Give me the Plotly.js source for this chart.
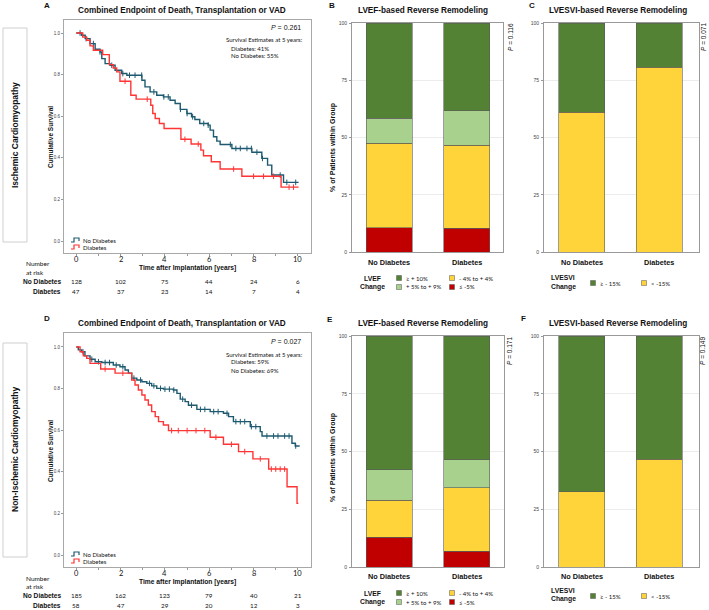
<!DOCTYPE html>
<html><head><meta charset="utf-8">
<script src="https://cdn.plot.ly/plotly-3.0.1.min.js"></script>
<style>html,body{margin:0;padding:0;background:#fff}#chart{width:709px;height:610px}</style>
</head><body><div id="chart"></div>
<script>
// ---------- DATA ----------
const groups = ['No Diabetes', 'Diabetes'];
const riskTimes = [0, 2, 4, 6, 8, 10];

// Panel A (Ischemic) Kaplan-Meier steps
const A_noDiab_t = [0, 0.24, 0.4, 0.62, 0.85, 1.07, 1.15, 1.3, 1.52, 1.75, 2.05, 2.28, 2.96, 3.1, 3.33, 3.63, 3.93, 4.23, 4.46, 4.69, 4.99, 5.2, 5.35, 5.57, 5.95, 6.04, 6.19, 6.34, 6.49, 7.02, 7.92, 8.37, 8.63, 8.82, 9.35, 10.03];
const A_noDiab_s = [1.0, 0.989, 0.973, 0.949, 0.922, 0.909, 0.877, 0.853, 0.845, 0.821, 0.805, 0.797, 0.773, 0.741, 0.717, 0.701, 0.693, 0.677, 0.661, 0.633, 0.613, 0.597, 0.584, 0.565, 0.557, 0.533, 0.501, 0.48, 0.464, 0.445, 0.427, 0.397, 0.365, 0.317, 0.282, 0.282];
const A_diab_t = [0, 0.29, 0.47, 0.62, 0.77, 1.19, 1.49, 1.67, 1.82, 1.97, 2.46, 2.7, 3.36, 3.45, 3.56, 3.75, 3.96, 4.72, 5.18, 5.62, 5.74, 6.09, 6.49, 7.47, 9.24, 10.03];
const A_diab_s = [1.0, 0.98, 0.965, 0.938, 0.917, 0.896, 0.848, 0.832, 0.813, 0.768, 0.701, 0.682, 0.653, 0.613, 0.589, 0.565, 0.541, 0.489, 0.466, 0.437, 0.41, 0.381, 0.346, 0.311, 0.259, 0.259];
const A_noDiab_cens = [0.17, 0.44, 0.77, 1.07, 1.6, 2.1, 2.4, 2.65, 2.95, 3.5, 3.95, 4.15, 4.7, 5.0, 5.25, 5.75, 5.95, 6.95, 7.2, 7.4, 7.7, 7.9, 8.15, 8.4, 9.2, 9.5, 9.9];
const A_diab_cens = [2.2, 3.2, 4.9, 5.5, 7.1, 8.0, 8.45, 8.9, 9.6, 9.8];
const A_risk_noDiab = [128, 102, 75, 44, 24, 6];
const A_risk_diab = [47, 37, 23, 14, 7, 4];

// Panel D (Non-ischemic) Kaplan-Meier steps
const D_noDiab_t = [0, 0.09, 0.24, 0.39, 0.62, 0.85, 1.15, 1.67, 1.97, 2.2, 2.35, 2.5, 2.73, 2.96, 3.18, 3.4, 3.63, 3.93, 4.38, 4.54, 4.69, 4.91, 5.06, 5.44, 6.04, 6.64, 6.87, 7.09, 7.85, 8.3, 8.38, 9.73, 9.88, 10.08];
const D_noDiab_s = [1.0, 0.986, 0.977, 0.957, 0.941, 0.929, 0.925, 0.913, 0.905, 0.889, 0.874, 0.85, 0.841, 0.833, 0.825, 0.813, 0.801, 0.797, 0.793, 0.777, 0.749, 0.737, 0.72, 0.70, 0.689, 0.681, 0.665, 0.641, 0.617, 0.593, 0.572, 0.537, 0.524, 0.524];
const D_diab_t = [0, 0.17, 0.32, 0.47, 0.62, 1.1, 1.75, 2.5, 2.65, 2.8, 2.96, 3.1, 3.25, 3.4, 3.56, 3.71, 3.93, 4.16, 6.04, 6.64, 7.32, 7.97, 8.68, 9.51, 9.96, 10.02];
const D_diab_s = [1.0, 0.977, 0.957, 0.945, 0.921, 0.894, 0.874, 0.841, 0.817, 0.793, 0.769, 0.745, 0.721, 0.689, 0.665, 0.641, 0.625, 0.598, 0.566, 0.532, 0.497, 0.462, 0.413, 0.328, 0.248, 0.248];
const D_noDiab_cens = [0.3, 0.7, 1.0, 1.3, 1.5, 1.8, 2.1, 2.6, 2.9, 3.3, 3.5, 3.8, 4.0, 4.2, 4.4, 4.8, 5.2, 5.6, 5.8, 6.2, 6.4, 6.8, 7.2, 7.4, 7.6, 7.9, 8.1, 8.6, 8.9, 9.1, 9.4, 9.6, 9.9];
const D_diab_cens = [1.3, 2.1, 4.3, 4.6, 5.0, 5.4, 5.8, 6.3, 7.0, 7.6, 8.3, 8.8, 9.0, 9.2, 9.4];
const D_risk_noDiab = [185, 162, 123, 79, 40, 21];
const D_risk_diab = [58, 47, 29, 20, 12, 3];

// LVEF change categories (% of patients)
const lvefLabels = ['\u2265 + 10%', '+ 5% to + 9%', '- 4% to + 4%', '\u2264 -5%'];
const B_le_m5 = [10.7, 10.4];
const B_m4_p4 = [36.8, 36.2];
const B_p5_p9 = [11.0, 15.1];
const B_ge_10 = [41.5, 38.3];
const E_le_m5 = [12.9, 6.9];
const E_m4_p4 = [15.9, 27.5];
const E_p5_p9 = [13.3, 12.0];
const E_ge_10 = [57.9, 53.6];

// LVESVI change categories
const lvesviLabels = ['\u2265 - 15%', '< -15%'];
const C_lt_m15 = [61.1, 80.7];
const C_ge_m15 = [38.9, 19.3];
const F_lt_m15 = [32.5, 46.7];
const F_ge_m15 = [67.5, 53.3];

const pValues = {A: '0.261', B: '0.116', C: '0.071', D: '0.027', E: '0.171', F: '0.149'};
const est5 = {A: ['41%', '55%'], D: ['59%', '69%']};

// ---------- STYLE ----------
const W = 709, H = 610;
const BLUE = '#1d5a70', RED = '#ff3535';
const DKG = '#548235', LTG = '#a9d18e', YEL = '#ffd43b', RD = '#c00000';
const ARIAL = 'Liberation Sans, Arial, sans-serif';
const LATO = 'Lato, Open Sans, sans-serif';
const px = x => x / W, py = y => 1 - y / H;

function stepAt(T, S, t) { let v = S[0]; for (let i = 0; i < T.length; i++) { if (T[i] <= t) v = S[i]; } return v; }

const traces = [];
function km(T, S, cens, color, xa, ya) {
  traces.push({x: T, y: S, type: 'scatter', mode: 'lines', line: {shape: 'hv', color: color, width: 1.4}, xaxis: xa, yaxis: ya, hoverinfo: 'skip'});
  traces.push({x: cens, y: cens.map(t => stepAt(T, S, t)), type: 'scatter', mode: 'markers',
    marker: {symbol: 'line-ns', size: 4, line: {color: color, width: 1}}, xaxis: xa, yaxis: ya, hoverinfo: 'skip'});
}
km(A_noDiab_t, A_noDiab_s, A_noDiab_cens, BLUE, 'x', 'y');
km(A_diab_t, A_diab_s, A_diab_cens, RED, 'x', 'y');
km(D_noDiab_t, D_noDiab_s, D_noDiab_cens, BLUE, 'x4', 'y4');
km(D_diab_t, D_diab_s, D_diab_cens, RED, 'x4', 'y4');

function bar(vals, color, xa, ya) {
  traces.push({x: groups, y: vals, type: 'bar', width: 0.594, marker: {color: color, line: {color: '#5a5a5a', width: 0.6}}, xaxis: xa, yaxis: ya, hoverinfo: 'skip'});
}
bar(B_le_m5, RD, 'x2', 'y2'); bar(B_m4_p4, YEL, 'x2', 'y2'); bar(B_p5_p9, LTG, 'x2', 'y2'); bar(B_ge_10, DKG, 'x2', 'y2');
bar(C_lt_m15, YEL, 'x3', 'y3'); bar(C_ge_m15, DKG, 'x3', 'y3');
bar(E_le_m5, RD, 'x5', 'y5'); bar(E_m4_p4, YEL, 'x5', 'y5'); bar(E_p5_p9, LTG, 'x5', 'y5'); bar(E_ge_10, DKG, 'x5', 'y5');
bar(F_lt_m15, YEL, 'x6', 'y6'); bar(F_ge_m15, DKG, 'x6', 'y6');

// ---------- AXES ----------
function kmX(anchor) {
  return {domain: [px(64), px(311)], range: [-0.555, 10.59], anchor: anchor, tickmode: 'array', tickvals: riskTimes, showticklabels: false,
    ticks: 'outside', ticklen: 2, tickcolor: '#999',
    minor: {dtick: 1, ticks: 'outside', ticklen: 2, tickcolor: '#999'},
    showline: true, mirror: true, linecolor: '#a8a8a8', linewidth: 1, showgrid: false, zeroline: false, fixedrange: true};
}
function kmY(anchor, top, bot, r) {
  return {domain: [py(bot), py(top)], range: r, anchor: anchor, tickvals: [0, 0.2, 0.4, 0.6, 0.8, 1.0], ticktext: ['0.0', '0.2', '0.4', '0.6', '0.8', '1.0'],
    ticks: 'outside', ticklen: 2, tickcolor: '#999', tickfont: {family: ARIAL, size: 4.5, color: '#444'}, ticklabelstandoff: 0,
    showline: true, mirror: true, linecolor: '#a8a8a8', linewidth: 1, showgrid: false, zeroline: false, fixedrange: true};
}
function barX(anchor, l, r, range) {
  return {domain: [px(l), px(r)], range: range, type: 'category', anchor: anchor, showticklabels: false,
    ticks: '', showline: true, mirror: true, linecolor: '#999', linewidth: 1, showgrid: false, zeroline: false, fixedrange: true};
}
function barY(anchor, top, bot) {
  return {domain: [py(bot), py(top)], range: [0, 100], anchor: anchor, tickvals: [0, 25, 50, 75, 100],
    ticks: 'outside', ticklen: 2, tickcolor: '#999', tickfont: {family: ARIAL, size: 5, color: '#444'}, ticklabelstandoff: 1,
    showline: true, mirror: true, linecolor: '#999', linewidth: 1, showgrid: true, gridcolor: '#ececec', gridwidth: 1, zeroline: false, fixedrange: true};
}

// ---------- ANNOTATIONS ----------
const ann = [];
function T(x, y, text, o) {
  ann.push(Object.assign({xref: 'paper', yref: 'paper', x: px(x), y: py(y), text: text, showarrow: false, xanchor: 'center', yanchor: 'middle',
    font: {family: ARIAL, size: 8, color: '#111'}}, o || {}));
}
const bold = (s) => '<b>' + s + '</b>';

// panel letters & titles
[['A', 47, 6], ['B', 332, 6], ['C', 532, 5], ['D', 47, 318], ['E', 330, 319], ['F', 523, 318]].forEach(a => T(a[1], a[2], bold(a[0]), {font: {family: ARIAL, size: 8, color: '#111'}}));
const kmTitle = 'Combined Endpoint of Death, Transplantation or VAD';
T(182, 10, bold(kmTitle), {font: {family: ARIAL, size: 8.2, color: '#111'}});
T(182, 324, bold(kmTitle), {font: {family: ARIAL, size: 8.2, color: '#111'}});
T(423, 10, bold('LVEF-based Reverse Remodeling'), {font: {family: ARIAL, size: 8.2, color: '#111'}});
T(423, 324, bold('LVEF-based Reverse Remodeling'), {font: {family: ARIAL, size: 8.2, color: '#111'}});
T(618, 10, bold('LVESVI-based Reverse Remodeling'), {font: {family: ARIAL, size: 8.2, color: '#111'}});
T(618, 324, bold('LVESVI-based Reverse Remodeling'), {font: {family: ARIAL, size: 8.2, color: '#111'}});

// row labels
T(15, 135, bold('Ischemic Cardiomyopathy'), {textangle: -90, font: {family: ARIAL, size: 8.5, color: '#111'}});
T(15, 450, bold('Non-Ischemic Cardiomyopathy'), {textangle: -90, font: {family: ARIAL, size: 8.5, color: '#111'}});

// KM panels text
function kmText(key, dy) {
  T(50, 137 + dy, bold('Cumulative Survival'), {textangle: -90, font: {family: ARIAL, size: 6.5, color: '#111'}});
  T(303, 27 + dy, '<i>P</i> = ' + pValues[key], {xanchor: 'right', font: {family: ARIAL, size: 7, color: '#111'}});
  T(305, 40 + dy, 'Survival Estimates at 5 years:', {xanchor: 'right', font: {family: LATO, size: 6, color: '#111'}});
  T(229, 48 + dy, 'Diabetes: ' + est5[key][0], {xanchor: 'left', font: {family: LATO, size: 6, color: '#111'}});
  T(229, 56 + dy, 'No Diabetes: ' + est5[key][1], {xanchor: 'left', font: {family: LATO, size: 6, color: '#111'}});
  T(81, 240 + dy, 'No Diabetes', {xanchor: 'left', font: {family: LATO, size: 6, color: '#111'}});
  T(81, 247 + dy, 'Diabetes', {xanchor: 'left', font: {family: LATO, size: 6, color: '#111'}});
  T(188, 268 + dy, bold('Time after Implantation [years]'), {font: {family: ARIAL, size: 6.7, color: '#111'}});
  T(24, 264 + dy, 'Number', {xanchor: 'left', font: {family: LATO, size: 6.5, color: '#111'}});
  T(24, 272 + dy, 'at risk', {xanchor: 'left', font: {family: LATO, size: 6.5, color: '#111'}});
  T(63, 281 + dy, bold('No Diabetes'), {xanchor: 'right', font: {family: ARIAL, size: 6.6, color: '#111'}});
  T(63, 291 + dy, bold('Diabetes'), {xanchor: 'right', font: {family: ARIAL, size: 6.6, color: '#111'}});
}
kmText('A', 0);
kmText('D', 314);
function axisRow(vals, xa, y, size) {
  riskTimes.forEach((t, i) => ann.push({xref: xa, yref: 'paper', x: t, y: py(y), text: String(vals[i]), showarrow: false, xanchor: 'center', yanchor: 'middle', font: {family: LATO, size: size, color: '#111'}}));
}
axisRow(riskTimes, 'x', 259, 7.5); axisRow(riskTimes, 'x4', 573, 7.5);
axisRow(A_risk_noDiab, 'x', 281, 6.3); axisRow(A_risk_diab, 'x', 291, 6.3);
axisRow(D_risk_noDiab, 'x4', 595, 6.3); axisRow(D_risk_diab, 'x4', 605, 6.3);

// bar panels text
function cats(xa, y) {
  groups.forEach(g => ann.push({xref: xa, yref: 'paper', x: g, y: py(y), text: bold(g), showarrow: false, xanchor: 'center', yanchor: 'middle', font: {family: ARIAL, size: 7.3, color: '#111'}}));
}
cats('x2', 262); cats('x3', 262); cats('x5', 576); cats('x6', 576);
T(333, 148, bold('% of Patients within Group'), {textangle: -90, font: {family: ARIAL, size: 7, color: '#111'}});
T(333, 458, bold('% of Patients within Group'), {textangle: -90, font: {family: ARIAL, size: 7, color: '#111'}});
T(510, 37, '<i>P</i> = ' + pValues.B, {textangle: -90, font: {family: ARIAL, size: 6.5, color: '#111'}});
T(703, 37, '<i>P</i> = ' + pValues.C, {textangle: -90, font: {family: ARIAL, size: 6.5, color: '#111'}});
T(510, 351, '<i>P</i> = ' + pValues.E, {textangle: -90, font: {family: ARIAL, size: 6.5, color: '#111'}});
T(703, 351, '<i>P</i> = ' + pValues.F, {textangle: -90, font: {family: ARIAL, size: 6.5, color: '#111'}});

const shapes = [];
// row boxes
shapes.push({type: 'rect', xref: 'paper', yref: 'paper', x0: px(3), x1: px(27), y0: py(242), y1: py(28), line: {color: '#cfcfcf', width: 1}});
shapes.push({type: 'rect', xref: 'paper', yref: 'paper', x0: px(3), x1: px(27), y0: py(557), y1: py(343), line: {color: '#cfcfcf', width: 1}});
// KM legend glyphs
function glyph(y, color) {
  const p = 'M' + px(71) + ',' + py(y + 2) + ' H' + px(74) + ' V' + py(y - 2) + ' H' + px(79) + ' V' + py(y + 1);
  shapes.push({type: 'path', xref: 'paper', yref: 'paper', path: p, line: {color: color, width: 1.2}});
}
glyph(240, BLUE); glyph(247, RED); glyph(554, BLUE); glyph(561, RED);

function sq(x, y, color) {
  shapes.push({type: 'rect', xref: 'paper', yref: 'paper', x0: px(x - 2.5), x1: px(x + 2.5), y0: py(y + 2.5), y1: py(y - 2.5), fillcolor: color, line: {color: '#555', width: 0.5}});
}
function lvefLegend(y1, y2) {
  T(373, y1, bold('LVEF'), {font: {family: ARIAL, size: 6.8, color: '#111'}});
  T(373, y2, bold('Change'), {font: {family: ARIAL, size: 6.8, color: '#111'}});
  const cols = [DKG, LTG, YEL, RD];
  const pos = [[399, y1], [399, y2], [452, y1], [452, y2]];
  lvefLabels.forEach((lab, i) => { sq(pos[i][0], pos[i][1], cols[i]); T(pos[i][0] + 5, pos[i][1], lab, {xanchor: 'left', font: {family: LATO, size: 6, color: '#111'}}); });
}
lvefLegend(278, 287);
lvefLegend(593, 602);
function lvesviLegend(y1, y2, yi) {
  T(563, y1, bold('LVESVI'), {font: {family: ARIAL, size: 6.8, color: '#111'}});
  T(563, y2, bold('Change'), {font: {family: ARIAL, size: 6.8, color: '#111'}});
  const cols = [DKG, YEL];
  [593, 644].forEach((x, i) => { sq(x, yi, cols[i]); T(x + 5, yi, lvesviLabels[i], {xanchor: 'left', font: {family: LATO, size: 6, color: '#111'}}); });
}
lvesviLegend(277, 287, 283);
lvesviLegend(590, 599, 596);

const layout = {
  width: W, height: H, margin: {l: 0, r: 0, t: 0, b: 0}, paper_bgcolor: '#fff', plot_bgcolor: '#fff',
  showlegend: false, barmode: 'stack',
  xaxis: kmX('y'), yaxis: kmY('x', 20, 253, [-0.0577, 1.0625]),
  xaxis2: barX('y2', 352, 503, [-0.48, 1.47]), yaxis2: barY('x2', 23, 252),
  xaxis3: barX('y3', 544, 699, [-0.49, 1.51]), yaxis3: barY('x3', 23, 252),
  xaxis4: kmX('y4'), yaxis4: kmY('x4', 333, 567, [-0.0577, 1.067]),
  xaxis5: barX('y5', 352, 504, [-0.48, 1.48]), yaxis5: barY('x5', 336, 567),
  xaxis6: barX('y6', 544, 699, [-0.49, 1.51]), yaxis6: barY('x6', 336, 567),
  annotations: ann, shapes: shapes
};
Plotly.newPlot('chart', traces, layout, {staticPlot: true, displayModeBar: false});
</script></body></html>
